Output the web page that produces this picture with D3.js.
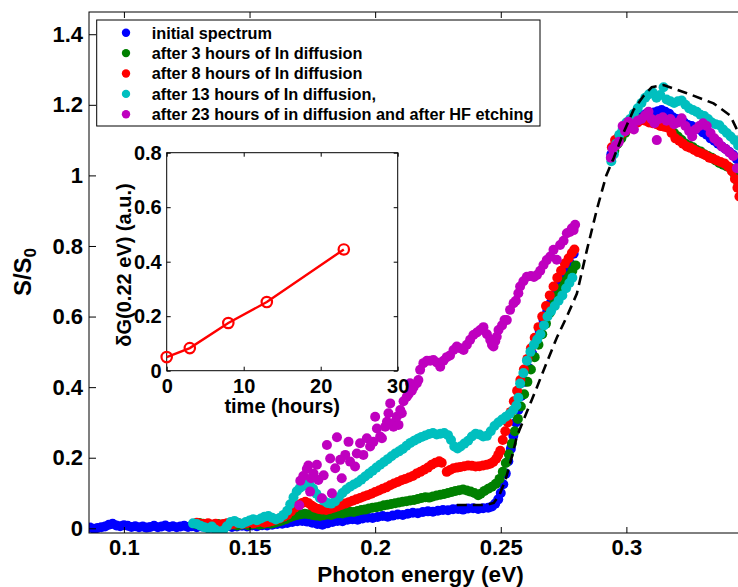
<!DOCTYPE html>
<html>
<head>
<meta charset="utf-8">
<script src="https://cdn.jsdelivr.net/npm/d3@7"></script>
<style>
  html, body { margin: 0; padding: 0; background: #fff; }
  svg { display: block; font-family: "Liberation Sans", Arial, Helvetica, sans-serif; font-weight: bold; }
</style>
</head>
<body>
<svg id="chart" width="738" height="587"></svg>
<script>
// ---- photoconductivity spectra S/S0 vs photon energy (eV), [energy, S/S0] ----
const initialSpectrum = [
  [0.0865,0.002],[0.0880,-0.001],[0.0895,0.001],[0.0910,0.003],[0.0925,0.005],[0.0940,0.010],[0.0955,0.013],[0.0970,0.008],
  [0.0985,0.006],[0.1000,0.009],[0.1015,0.007],[0.1030,0.004],[0.1045,0.006],[0.1060,0.003],[0.1075,0.005],[0.1090,0.002],
  [0.1105,0.004],[0.1120,0.007],[0.1135,0.003],[0.1150,0.005],[0.1165,0.008],[0.1180,0.004],[0.1195,0.006],[0.1210,0.003],
  [0.1225,0.005],[0.1240,0.007],[0.1255,0.004],[0.1270,0.006],[0.1290,0.003],[0.1310,0.005],[0.1330,0.004],[0.1350,0.002],
  [0.1370,0.005],[0.1390,0.003],[0.1410,0.006],[0.1430,0.004],[0.1450,0.005],[0.1470,0.007],[0.1490,0.005],[0.1510,0.008],
  [0.1530,0.006],[0.1550,0.009],[0.1570,0.008],[0.1590,0.010],[0.1610,0.012],[0.1630,0.013],[0.1650,0.015],[0.1670,0.018],
  [0.1690,0.020],[0.1710,0.021],[0.1730,0.019],[0.1750,0.016],[0.1770,0.012],[0.1790,0.010],[0.1810,0.014],[0.1830,0.018],
  [0.1850,0.021],[0.1870,0.020],[0.1890,0.024],[0.1910,0.026],[0.1930,0.024],[0.1950,0.028],[0.1970,0.030],[0.1990,0.029],
  [0.2010,0.032],[0.2030,0.035],[0.2050,0.033],[0.2070,0.036],[0.2090,0.039],[0.2110,0.038],[0.2130,0.041],[0.2150,0.044],
  [0.2170,0.043],[0.2190,0.046],[0.2210,0.048],[0.2230,0.047],[0.2250,0.050],[0.2270,0.052],[0.2290,0.051],[0.2310,0.054],
  [0.2330,0.055],[0.2350,0.053],[0.2370,0.056],[0.2390,0.057],[0.2410,0.055],[0.2430,0.057],[0.2450,0.058],[0.2465,0.062],
  [0.2478,0.070],[0.2490,0.082],[0.2500,0.100],[0.2510,0.125],[0.2520,0.155],[0.2530,0.190],[0.2540,0.225],[0.2550,0.262],
  [0.2560,0.300],[0.2570,0.335],[0.2582,0.375],[0.2595,0.415],[0.2610,0.455],[0.2625,0.495],[0.2640,0.528],[0.2655,0.560],
  [0.2670,0.590],[0.2685,0.615],[0.2700,0.640],[0.2715,0.662],[0.2730,0.685],[0.2745,0.705],[0.2760,0.728],[0.2775,0.752],
  [0.2790,0.778],
  [0.2940,1.060],[0.2950,1.080],[0.2962,1.095],[0.2975,1.110],[0.2990,1.125],[0.3005,1.140],[0.3020,1.152],[0.3035,1.160],
  [0.3050,1.165],[0.3065,1.170],[0.3080,1.175],[0.3095,1.172],[0.3110,1.178],[0.3125,1.182],[0.3140,1.185],[0.3155,1.180],
  [0.3170,1.175],[0.3185,1.165],[0.3200,1.160],[0.3215,1.155],[0.3230,1.150],[0.3245,1.143],[0.3260,1.140],[0.3275,1.135],
  [0.3290,1.130],[0.3305,1.122],[0.3320,1.115],[0.3335,1.105],[0.3350,1.098],[0.3365,1.090],[0.3380,1.082],[0.3395,1.075],
  [0.3410,1.066],[0.3425,1.058],[0.3440,1.046],[0.3455,1.030]
];

const after3h = [
  [0.1285,0.012],[0.1300,0.015],[0.1315,0.013],[0.1330,0.010],[0.1345,0.008],[0.1360,0.010],[0.1375,0.012],[0.1390,0.009],
  [0.1405,0.007],[0.1420,0.010],[0.1435,0.011],[0.1450,0.008],[0.1465,0.010],[0.1480,0.012],[0.1495,0.009],[0.1510,0.011],
  [0.1525,0.013],[0.1540,0.010],[0.1555,0.012],[0.1570,0.014],[0.1585,0.013],[0.1600,0.016],[0.1615,0.019],[0.1630,0.022],
  [0.1645,0.026],[0.1660,0.031],[0.1675,0.035],[0.1690,0.038],[0.1705,0.040],[0.1720,0.041],[0.1735,0.040],[0.1750,0.038],
  [0.1765,0.036],[0.1780,0.035],[0.1795,0.037],[0.1810,0.039],[0.1825,0.038],[0.1840,0.041],[0.1855,0.043],[0.1870,0.042],
  [0.1885,0.045],[0.1900,0.047],[0.1915,0.046],[0.1930,0.049],[0.1945,0.052],[0.1960,0.053],[0.1975,0.056],[0.1990,0.058],
  [0.2005,0.060],[0.2020,0.062],[0.2035,0.065],[0.2050,0.067],[0.2065,0.069],[0.2080,0.071],[0.2095,0.073],[0.2110,0.075],
  [0.2125,0.077],[0.2140,0.079],[0.2155,0.080],[0.2170,0.083],[0.2185,0.086],[0.2200,0.088],[0.2215,0.087],[0.2230,0.090],
  [0.2245,0.093],[0.2260,0.095],[0.2275,0.097],[0.2290,0.100],[0.2305,0.103],[0.2320,0.106],[0.2335,0.108],[0.2350,0.110],
  [0.2365,0.107],[0.2380,0.104],[0.2395,0.100],[0.2410,0.094],[0.2420,0.098],[0.2435,0.106],[0.2450,0.112],[0.2465,0.118],
  [0.2480,0.126],[0.2495,0.140],[0.2508,0.160],[0.2520,0.185],[0.2532,0.210],[0.2544,0.240],[0.2556,0.275],[0.2568,0.310],
  [0.2580,0.345],[0.2593,0.380],[0.2606,0.415],[0.2620,0.450],[0.2635,0.485],[0.2650,0.520],[0.2665,0.550],[0.2680,0.580],
  [0.2695,0.610],[0.2710,0.635],[0.2725,0.660],[0.2740,0.680],[0.2755,0.700],[0.2770,0.715],[0.2785,0.730],[0.2798,0.745],
  [0.2940,1.050],[0.2952,1.070],[0.2965,1.090],[0.2980,1.105],[0.2995,1.120],[0.3010,1.135],[0.3025,1.145],[0.3040,1.155],
  [0.3055,1.160],[0.3070,1.165],[0.3085,1.162],[0.3100,1.158],[0.3115,1.155],[0.3130,1.150],[0.3145,1.145],[0.3160,1.140],
  [0.3175,1.132],[0.3190,1.120],[0.3205,1.110],[0.3220,1.100],[0.3235,1.090],[0.3250,1.085],[0.3265,1.080],[0.3280,1.072],
  [0.3295,1.068],[0.3310,1.060],[0.3325,1.055],[0.3340,1.050],[0.3355,1.042],[0.3370,1.035],[0.3385,1.030],[0.3400,1.025],
  [0.3415,1.020],[0.3430,1.005],[0.3445,0.980]
];

const after8h = [
  [0.1290,0.016],[0.1305,0.013],[0.1320,0.012],[0.1335,0.014],[0.1350,0.011],[0.1365,0.013],[0.1380,0.010],[0.1395,0.012],
  [0.1410,0.014],[0.1425,0.011],[0.1440,0.013],[0.1455,0.015],[0.1470,0.012],[0.1485,0.014],[0.1500,0.016],[0.1515,0.014],
  [0.1530,0.017],[0.1545,0.019],[0.1560,0.016],[0.1575,0.018],[0.1590,0.021],[0.1605,0.024],[0.1620,0.028],[0.1635,0.033],
  [0.1650,0.038],[0.1665,0.048],[0.1680,0.058],[0.1695,0.066],[0.1710,0.072],[0.1722,0.075],[0.1735,0.071],[0.1748,0.064],
  [0.1760,0.058],[0.1775,0.055],[0.1790,0.053],[0.1805,0.052],[0.1820,0.055],[0.1835,0.058],[0.1850,0.062],[0.1865,0.066],
  [0.1880,0.070],[0.1895,0.074],[0.1910,0.078],[0.1925,0.082],[0.1940,0.086],[0.1955,0.090],[0.1970,0.094],[0.1985,0.098],
  [0.2000,0.103],[0.2015,0.107],[0.2030,0.112],[0.2045,0.116],[0.2060,0.122],[0.2075,0.127],[0.2090,0.131],[0.2105,0.136],
  [0.2120,0.140],[0.2135,0.144],[0.2150,0.148],[0.2165,0.155],[0.2180,0.160],[0.2195,0.166],[0.2210,0.172],[0.2225,0.180],
  [0.2240,0.186],[0.2255,0.190],[0.2265,0.186],[0.2285,0.160],[0.2298,0.165],[0.2312,0.170],[0.2326,0.172],[0.2340,0.174],
  [0.2355,0.176],[0.2370,0.178],[0.2385,0.177],[0.2400,0.175],[0.2415,0.176],[0.2430,0.178],[0.2445,0.180],[0.2458,0.183],
  [0.2470,0.188],[0.2482,0.197],[0.2490,0.208],[0.2498,0.220],[0.2508,0.250],[0.2518,0.275],[0.2528,0.300],[0.2540,0.330],
  [0.2552,0.360],[0.2565,0.390],[0.2578,0.420],[0.2592,0.450],[0.2606,0.480],[0.2620,0.510],[0.2635,0.540],[0.2650,0.570],
  [0.2665,0.600],[0.2680,0.630],[0.2695,0.660],[0.2710,0.685],[0.2725,0.710],[0.2740,0.730],[0.2755,0.750],[0.2770,0.765],
  [0.2783,0.780],[0.2793,0.790],
  [0.2942,1.080],[0.2955,1.100],[0.2970,1.110],[0.2985,1.120],[0.3000,1.128],[0.3015,1.135],[0.3030,1.145],[0.3045,1.150],
  [0.3060,1.157],[0.3075,1.155],[0.3090,1.150],[0.3105,1.148],[0.3120,1.145],[0.3135,1.140],[0.3150,1.138],[0.3165,1.135],
  [0.3180,1.120],[0.3195,1.105],[0.3210,1.098],[0.3225,1.090],[0.3240,1.082],[0.3255,1.078],[0.3270,1.072],[0.3285,1.066],
  [0.3300,1.062],[0.3315,1.057],[0.3330,1.050],[0.3345,1.047],[0.3360,1.042],[0.3375,1.038],[0.3390,1.034],[0.3405,1.025],
  [0.3420,1.012],[0.3432,0.990],[0.3442,0.965],[0.3450,0.940]
];

const after13h = [
  [0.1275,0.014],[0.1290,0.012],[0.1305,0.007],[0.1320,0.003],[0.1335,0.000],[0.1350,0.005],[0.1365,-0.004],[0.1380,-0.010],
  [0.1395,-0.006],[0.1410,0.006],[0.1425,0.018],[0.1440,0.021],[0.1455,0.015],[0.1470,0.013],[0.1485,0.018],[0.1500,0.022],
  [0.1515,0.026],[0.1530,0.023],[0.1545,0.028],[0.1560,0.033],[0.1575,0.035],[0.1590,0.030],[0.1605,0.025],[0.1620,0.029],
  [0.1635,0.038],[0.1650,0.050],[0.1662,0.068],[0.1675,0.088],[0.1688,0.105],[0.1700,0.114],[0.1713,0.120],[0.1726,0.126],
  [0.1740,0.122],[0.1753,0.112],[0.1766,0.098],[0.1780,0.086],[0.1795,0.078],[0.1810,0.072],[0.1825,0.070],[0.1840,0.076],
  [0.1855,0.088],[0.1870,0.100],[0.1885,0.110],[0.1900,0.118],[0.1915,0.124],[0.1930,0.130],[0.1945,0.138],[0.1960,0.147],
  [0.1975,0.155],[0.1990,0.163],[0.2005,0.172],[0.2020,0.180],[0.2035,0.188],[0.2050,0.196],[0.2065,0.204],[0.2080,0.212],
  [0.2095,0.218],[0.2110,0.225],[0.2125,0.234],[0.2140,0.242],[0.2155,0.248],[0.2170,0.254],[0.2185,0.259],[0.2200,0.263],
  [0.2215,0.267],[0.2230,0.270],[0.2245,0.266],[0.2260,0.268],[0.2275,0.270],[0.2290,0.264],[0.2302,0.250],[0.2315,0.232],
  [0.2328,0.226],[0.2340,0.232],[0.2355,0.240],[0.2370,0.248],[0.2385,0.260],[0.2400,0.268],[0.2415,0.266],[0.2430,0.260],
  [0.2445,0.262],[0.2460,0.275],[0.2475,0.290],[0.2490,0.300],[0.2505,0.308],[0.2520,0.316],[0.2535,0.324],[0.2550,0.335],
  [0.2562,0.348],[0.2570,0.370],[0.2577,0.410],[0.2590,0.440],[0.2604,0.475],[0.2618,0.500],[0.2632,0.520],[0.2645,0.535],
  [0.2658,0.550],[0.2672,0.575],[0.2686,0.600],[0.2700,0.615],[0.2715,0.630],[0.2730,0.645],[0.2745,0.660],[0.2760,0.680],
  [0.2773,0.695],[0.2785,0.710],
  [0.2940,1.040],[0.2950,1.060],[0.2960,1.090],[0.2972,1.115],[0.2985,1.130],[0.3000,1.150],[0.3015,1.160],[0.3030,1.175],
  [0.3045,1.190],[0.3060,1.205],[0.3075,1.220],[0.3090,1.230],[0.3105,1.235],[0.3120,1.220],[0.3135,1.228],[0.3148,1.250],
  [0.3160,1.215],[0.3175,1.210],[0.3190,1.205],[0.3205,1.210],[0.3220,1.212],[0.3235,1.200],[0.3250,1.190],[0.3265,1.185],
  [0.3280,1.180],[0.3295,1.172],[0.3310,1.168],[0.3325,1.160],[0.3340,1.150],[0.3355,1.145],[0.3370,1.142],[0.3385,1.130],
  [0.3400,1.120],[0.3415,1.110],[0.3430,1.100],[0.3445,1.085]
];

const after23hHF = [
  [0.1698,0.065],[0.1702,0.135],[0.1714,0.148],[0.1728,0.168],[0.1734,0.178],[0.1741,0.104],[0.1745,0.142],[0.1755,0.155],
  [0.1768,0.180],[0.1774,0.137],[0.1788,0.085],[0.1795,0.150],[0.1808,0.236],[0.1821,0.198],[0.1828,0.099],[0.1841,0.170],
  [0.1848,0.258],[0.1861,0.194],[0.1867,0.142],[0.1881,0.208],[0.1894,0.245],[0.1900,0.189],[0.1920,0.175],[0.1927,0.212],
  [0.1940,0.241],[0.1953,0.208],[0.1967,0.255],[0.1980,0.232],[0.1993,0.245],[0.2000,0.316],[0.2007,0.283],[0.2020,0.260],
  [0.2027,0.255],[0.2040,0.288],[0.2047,0.302],[0.2053,0.326],[0.2060,0.354],[0.2073,0.288],[0.2080,0.302],[0.2086,0.316],
  [0.2093,0.293],[0.2100,0.335],[0.2106,0.326],[0.2113,0.360],[0.2126,0.373],[0.2133,0.380],[0.2139,0.411],[0.2146,0.390],
  [0.2153,0.400],[0.2166,0.411],[0.2172,0.420],[0.2179,0.449],[0.2192,0.468],[0.2206,0.475],[0.2219,0.475],[0.2232,0.477],
  [0.2245,0.470],[0.2259,0.458],[0.2272,0.475],[0.2285,0.485],[0.2298,0.490],[0.2312,0.505],[0.2325,0.515],[0.2338,0.510],
  [0.2352,0.505],[0.2365,0.520],[0.2378,0.534],[0.2391,0.548],[0.2405,0.555],[0.2418,0.562],[0.2431,0.570],[0.2445,0.550],
  [0.2458,0.534],[0.2465,0.520],[0.2471,0.515],[0.2478,0.530],[0.2484,0.543],[0.2491,0.562],[0.2505,0.575],[0.2515,0.590],
  [0.2524,0.590],[0.2537,0.619],[0.2551,0.638],[0.2560,0.645],[0.2570,0.666],[0.2577,0.685],[0.2590,0.700],[0.2604,0.713],
  [0.2620,0.715],[0.2632,0.712],[0.2644,0.718],[0.2657,0.730],[0.2670,0.746],[0.2683,0.760],[0.2697,0.770],[0.2710,0.789],
  [0.2723,0.761],[0.2736,0.803],[0.2750,0.815],[0.2763,0.836],[0.2775,0.840],[0.2783,0.850],[0.2790,0.845],[0.2796,0.860],
  [0.2938,1.050],[0.2945,1.075],[0.2958,1.085],[0.2970,1.095],[0.2985,1.140],[0.2995,1.125],[0.3008,1.152],[0.3020,1.140],
  [0.3030,1.130],[0.3045,1.155],[0.3060,1.160],[0.3075,1.170],[0.3088,1.180],[0.3100,1.160],[0.3112,1.148],[0.3121,1.100],
  [0.3130,1.160],[0.3145,1.165],[0.3160,1.155],[0.3175,1.160],[0.3190,1.145],[0.3205,1.150],[0.3220,1.162],[0.3235,1.140],
  [0.3250,1.125],[0.3262,1.110],[0.3275,1.130],[0.3290,1.140],[0.3305,1.148],[0.3320,1.140],[0.3335,1.120],[0.3350,1.105],
  [0.3365,1.095],[0.3380,1.082],[0.3395,1.075],[0.3410,1.065],[0.3425,1.055],[0.3440,1.020]
];

// calculated curve (dashed)
const modelCurve = [
  [0.2325,0.066],[0.2440,0.066],[0.2472,0.072],[0.2495,0.095],[0.2520,0.140],[0.2545,0.205],[0.2564,0.260],[0.2604,0.330],
  [0.2644,0.400],[0.2683,0.470],[0.2723,0.540],[0.2763,0.600],[0.2803,0.665],[0.2843,0.789],[0.2883,0.905],[0.2920,1.000],
  [0.2950,1.050],[0.2988,1.120],[0.3028,1.185],[0.3068,1.225],[0.3101,1.250],[0.3148,1.256],[0.3241,1.233],[0.3347,1.204],
  [0.3413,1.170],[0.3440,1.130],[0.3470,1.070]
];

const seriesLabels = [
  "initial spectrum",
  "after 3 hours of In diffusion",
  "after 8 hours of In diffusion",
  "after 13 hours of In diffusion,",
  "after 23 hours of in diffusion and after HF etching"
];
const seriesColors = ["#0000ff", "#008000", "#ff0000", "#00bfbf", "#bf00bf"];
const seriesData = [initialSpectrum, after3h, after8h, after13h, after23hHF];

const xTicks = [0.1, 0.15, 0.2, 0.25, 0.3];
const yTicks = [0, 0.2, 0.4, 0.6, 0.8, 1, 1.2, 1.4];

// inset: deltaG(0.22 eV) vs diffusion time
const insetTime = [0, 3, 8, 13, 23];
const insetDeltaG = [0.05, 0.083, 0.175, 0.252, 0.445];
const insetXTicks = [0, 10, 20, 30];
const insetYTicks = [0, 0.2, 0.4, 0.6, 0.8];

// ---------------------------------------------------------------
const svg = d3.select("#chart");
svg.append("rect").attr("width", 738).attr("height", 587).attr("fill", "#fff");

const box = { left: 89, top: 12, right: 752, bottom: 533 };
const x = d3.scaleLinear().domain([0.0861, 0.35]).range([box.left, box.right]);
const y = d3.scaleLinear().domain([-0.0133, 1.463]).range([box.bottom, box.top]);

svg.append("clipPath").attr("id", "plotClip")
  .append("rect").attr("x", box.left).attr("y", box.top)
  .attr("width", box.right - box.left).attr("height", box.bottom - box.top);

const plot = svg.append("g").attr("clip-path", "url(#plotClip)");

seriesData.forEach((pts, i) => {
  plot.append("g").selectAll("circle").data(pts).join("circle")
    .attr("cx", d => x(d[0])).attr("cy", d => y(d[1]))
    .attr("r", 5).attr("fill", seriesColors[i]);
});

plot.append("path").datum(modelCurve)
  .attr("d", d3.line().x(d => x(d[0])).y(d => y(d[1])))
  .attr("fill", "none").attr("stroke", "#000")
  .attr("stroke-width", 2.6).attr("stroke-dasharray", "10,6");

// axes (ticks point inward)
function styleAxis(g) {
  g.select(".domain").remove();
  g.selectAll(".tick line").attr("stroke", "#000").attr("stroke-width", 1);
  g.selectAll("text").attr("fill", "#000");
}
const fmt = d => String(d);

svg.append("g").attr("transform", `translate(0,${box.bottom})`)
  .call(d3.axisBottom(x).tickValues(xTicks).tickFormat(fmt).tickSize(-6).tickPadding(6))
  .call(styleAxis)
  .selectAll("text").style("font-size", "22px").style("font-family", "inherit").style("font-weight", "bold");

svg.append("g").attr("transform", `translate(0,${box.top})`)
  .call(d3.axisTop(x).tickValues(xTicks).tickFormat("").tickSize(-6))
  .call(styleAxis);

svg.append("g").attr("transform", `translate(${box.left},0)`)
  .call(d3.axisLeft(y).tickValues(yTicks).tickFormat(fmt).tickSize(-7).tickPadding(6))
  .call(styleAxis)
  .selectAll("text").style("font-size", "22px").style("font-family", "inherit").style("font-weight", "bold");

svg.append("rect")
  .attr("x", box.left).attr("y", box.top)
  .attr("width", box.right - box.left).attr("height", box.bottom - box.top)
  .attr("fill", "none").attr("stroke", "#000").attr("stroke-width", 1);

// axis titles
svg.append("text")
  .attr("x", (box.left + box.right) / 2).attr("y", 582)
  .attr("text-anchor", "middle").style("font-size", "22.5px")
  .text("Photon energy (eV)");

const yTitle = svg.append("text")
  .attr("transform", `translate(31,272) rotate(-90)`)
  .attr("text-anchor", "middle").style("font-size", "24px");
yTitle.append("tspan").text("S/S");
yTitle.append("tspan").attr("dy", "0.3em").style("font-size", "17px").text("0");

// legend
const legend = svg.append("g");
legend.append("rect")
  .attr("x", 96.7).attr("y", 20).attr("width", 443.3).attr("height", 106)
  .attr("fill", "#fff").attr("stroke", "#000").attr("stroke-width", 1);
seriesLabels.forEach((label, i) => {
  const cy = 32.7 + i * 20.4;
  legend.append("circle").attr("cx", 126).attr("cy", cy).attr("r", 4.2).attr("fill", seriesColors[i]);
  legend.append("text").attr("x", 151.7).attr("y", cy + 5.8)
    .style("font-size", "16.3px").text(label);
});

// inset
const ibox = { left: 166.7, top: 152.7, right: 397.7, bottom: 370.7 };
const ix = d3.scaleLinear().domain([0, 30]).range([ibox.left, ibox.right]);
const iy = d3.scaleLinear().domain([0, 0.8]).range([ibox.bottom, ibox.top]);
const inset = svg.append("g");

inset.append("rect")
  .attr("x", ibox.left).attr("y", ibox.top)
  .attr("width", ibox.right - ibox.left).attr("height", ibox.bottom - ibox.top)
  .attr("fill", "#fff");

inset.append("g").attr("transform", `translate(0,${ibox.bottom})`)
  .call(d3.axisBottom(ix).tickValues(insetXTicks).tickFormat(fmt).tickSize(-4).tickPadding(8))
  .call(styleAxis)
  .selectAll("text").style("font-size", "20px").style("font-family", "inherit").style("font-weight", "bold");
inset.append("g").attr("transform", `translate(0,${ibox.top})`)
  .call(d3.axisTop(ix).tickValues(insetXTicks).tickFormat("").tickSize(-4))
  .call(styleAxis);
inset.append("g").attr("transform", `translate(${ibox.left},0)`)
  .call(d3.axisLeft(iy).tickValues(insetYTicks).tickFormat(fmt).tickSize(-4).tickPadding(5))
  .call(styleAxis)
  .selectAll("text").style("font-size", "20px").style("font-family", "inherit").style("font-weight", "bold");
inset.append("g").attr("transform", `translate(${ibox.right},0)`)
  .call(d3.axisRight(iy).tickValues(insetYTicks).tickFormat("").tickSize(-4))
  .call(styleAxis);

inset.append("rect")
  .attr("x", ibox.left).attr("y", ibox.top)
  .attr("width", ibox.right - ibox.left).attr("height", ibox.bottom - ibox.top)
  .attr("fill", "none").attr("stroke", "#000").attr("stroke-width", 1);

const insetPts = insetTime.map((t, i) => [t, insetDeltaG[i]]);
inset.append("path").datum(insetPts)
  .attr("d", d3.line().x(d => ix(d[0])).y(d => iy(d[1])))
  .attr("fill", "none").attr("stroke", "#ff0000").attr("stroke-width", 2.4);
inset.append("g").selectAll("circle").data(insetPts).join("circle")
  .attr("cx", d => ix(d[0])).attr("cy", d => iy(d[1])).attr("r", 5.2)
  .attr("fill", "none").attr("stroke", "#ff0000").attr("stroke-width", 2.2);

inset.append("text")
  .attr("x", (ibox.left + ibox.right) / 2).attr("y", 413)
  .attr("text-anchor", "middle").style("font-size", "20px")
  .text("time (hours)");
inset.append("text")
  .attr("transform", `translate(131,265) rotate(-90)`)
  .attr("text-anchor", "middle").style("font-size", "20px")
  .text("δG(0.22 eV) (a.u.)");
</script>
</body>
</html>
